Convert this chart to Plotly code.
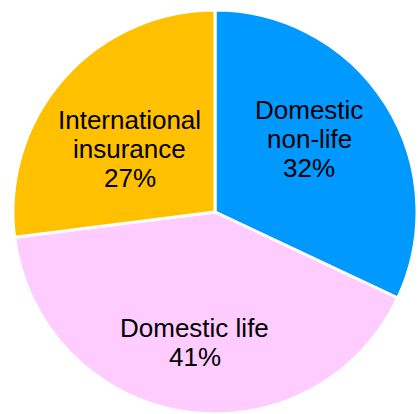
import math
import plotly.graph_objects as go

# Premium income split by business line
segments = ["Domestic non-life", "Domestic life", "International insurance"]
shares = [32, 41, 27]
label_lines = [["Domestic", "non-life"], ["Domestic life"], ["International", "insurance"]]
colors = ["#0099FF", "#FFCCFF", "#FFC000"]

# Label placement: fraction of the radius and angular nudge (degrees) from the slice middle
label_radius = [0.59, 0.655, 0.524]
label_nudge = [-5.4, -0.3, -4.9]
LINE_GAP = 29  # px between text lines
FONT = dict(family="Liberation Sans, Arial, sans-serif", size=26, color="black")

W, H = 418, 414
dom_x = [12 / W, 1.0]
dom_y = [0.0, 404 / H]

fig = go.Figure(
    go.Pie(
        labels=segments,
        values=shares,
        textinfo="none",
        sort=False,
        direction="clockwise",
        rotation=0,
        marker=dict(colors=colors, line=dict(color="white", width=3)),
        domain=dict(x=dom_x, y=dom_y),
        showlegend=False,
        hoverinfo="label+percent",
    )
)

# Pie geometry in pixels (Plotly centres the circle in its domain)
cx = (dom_x[0] + dom_x[1]) / 2 * W
cy = (dom_y[0] + dom_y[1]) / 2 * H
radius = min((dom_x[1] - dom_x[0]) * W, (dom_y[1] - dom_y[0]) * H) / 2

total = sum(shares)
start = 0.0
for lines, share, frac, nudge in zip(label_lines, shares, label_radius, label_nudge):
    pct = share / total
    mid = (start + pct / 2) * 2 * math.pi + math.radians(nudge)  # clockwise from 12 o'clock
    start += pct
    px = cx + frac * radius * math.sin(mid)
    py = cy + frac * radius * math.cos(mid)  # measured upward from the bottom
    rows = lines + [f"{round(pct * 100)}%"]
    for i, row in enumerate(rows):
        offset = ((len(rows) - 1) / 2 - i) * LINE_GAP
        fig.add_annotation(
            x=px / W,
            y=(py + offset) / H,
            xref="paper",
            yref="paper",
            text=row,
            showarrow=False,
            xanchor="center",
            yanchor="middle",
            font=FONT,
        )

fig.update_layout(
    width=W,
    height=H,
    margin=dict(l=0, r=0, t=0, b=0),
    paper_bgcolor="white",
    plot_bgcolor="white",
)

fig.write_html("out.html")
